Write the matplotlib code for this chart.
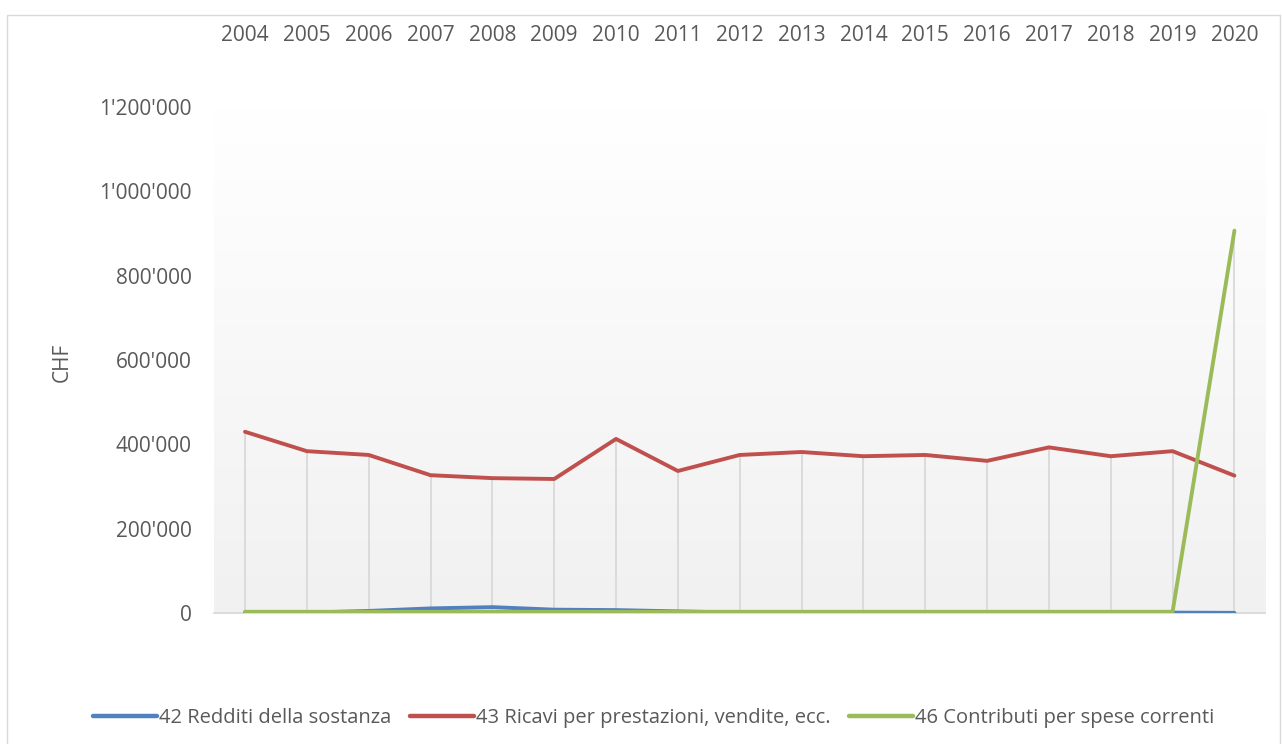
import numpy as np
import matplotlib
matplotlib.use("Agg")
import matplotlib.pyplot as plt
from matplotlib.patches import Rectangle
from matplotlib.colors import LinearSegmentedColormap
from matplotlib.ticker import FuncFormatter

plt.rcParams["font.family"] = ["Open Sans", "DejaVu Sans"]

years = list(range(2004, 2021))
redditi = [1000, 1000, 5000, 11000, 14000, 8000, 7000, 4000, 1000, 1000,
           1000, 1000, 1000, 1000, 1000, 1000, 500]
ricavi = [430000, 384000, 375000, 327000, 320000, 318000, 413000, 337000, 375000,
          382000, 372000, 375000, 361000, 393000, 372000, 384000, 326000]
contributi = [3000] * 16 + [907000]

labels = ["42 Redditi della sostanza",
          "43 Ricavi per prestazioni, vendite, ecc.",
          "46 Contributi per spese correnti"]
colors = ["#4f81bd", "#c0504d", "#9bbb59"]
text_col = "#595959"
fs = 15

fig = plt.figure(figsize=(12.82, 7.44), dpi=100)
ax = fig.add_axes([0.167, 0.176, 0.820, 0.680])

# chart border
fig.patches.append(Rectangle((7 / 1282, -0.01), 1273 / 1282, 1 - 15 / 744 + 0.01,
                             transform=fig.transFigure, fill=False,
                             edgecolor="#d9d9d9", linewidth=1.0))

# plot area gradient (white top -> light grey bottom)
grad = np.linspace(0.0, 1.0, 256).reshape(-1, 1)
cmap = LinearSegmentedColormap.from_list("g", ["#f1f1f1", "#ffffff"])
ax.imshow(grad, extent=[2003.5, 2020.5, 0, 1200000], aspect="auto",
          cmap=cmap, origin="lower", zorder=0)

# drop lines
tops = np.max([redditi, ricavi, contributi], axis=0)
ax.vlines(years, 0, tops, color="#d9d9d9", linewidth=1.3, zorder=1)

for vals, lab, col in zip([redditi, ricavi, contributi], labels, colors):
    ax.plot(years, vals, color=col, linewidth=2.8, label=lab, zorder=3,
            solid_joinstyle="round", solid_capstyle="round")

ax.set_xlim(2003.5, 2020.5)
ax.set_ylim(0, 1200000)
ax.set_xticks(years)
ax.set_yticks(range(0, 1200001, 200000))
ax.yaxis.set_major_formatter(FuncFormatter(lambda v, p: f"{v:,.0f}".replace(",", "'")))
ax.xaxis.tick_top()
ax.tick_params(axis="x", length=0, pad=44, labelsize=fs, labelcolor=text_col)
ax.tick_params(axis="y", length=0, pad=16, labelsize=fs, labelcolor=text_col)
for s in ["top", "right", "left"]:
    ax.spines[s].set_visible(False)
ax.spines["bottom"].set_color("#d9d9d9")
ax.spines["bottom"].set_linewidth(1.3)

fig.text(62 / 1282, 1 - 362 / 744, "CHF", rotation=90, ha="center", va="center",
         fontsize=fs, color=text_col)

leg = fig.legend(loc="center", bbox_to_anchor=(0.51, 1 - 718 / 744), ncol=3,
                 frameon=False, fontsize=14.5, handlelength=3.2, handletextpad=0.1,
                 columnspacing=0.9)
for line in leg.get_lines():
    line.set_linewidth(3.2)
for t in leg.get_texts():
    t.set_color(text_col)

fig.savefig("out.png", dpi=100)
